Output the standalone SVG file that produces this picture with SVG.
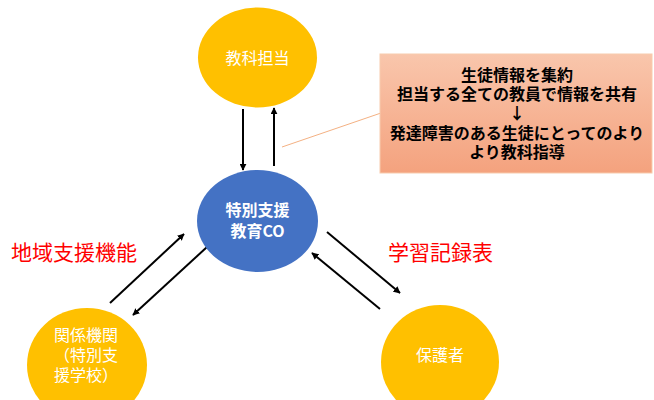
<svg xmlns="http://www.w3.org/2000/svg" width="654" height="400" viewBox="0 0 654 400">
<defs>
<linearGradient id="boxg" x1="0" y1="0" x2="0" y2="1">
<stop offset="0" stop-color="#F9C6AC"/>
<stop offset="1" stop-color="#F4A27E"/>
</linearGradient>
<marker id="ah" viewBox="0 0 10 10" refX="9" refY="5" markerWidth="7" markerHeight="7" markerUnits="userSpaceOnUse" orient="auto">
<path d="M0,0 L10,5 L0,10 z" fill="#000"/>
</marker>
<style>
.yel{fill:#FFC000;}
.blu{fill:#4472C4;}
.wt{fill:#fff;font-family:"Noto Sans CJK JP","Noto Sans",sans-serif;font-size:16px;}
.wtb{fill:#fff;font-family:"Noto Sans CJK JP","Noto Sans",sans-serif;font-size:16px;font-weight:bold;}
.bx{fill:#000;font-family:"Noto Sans CJK JP","Noto Sans",sans-serif;font-size:16px;font-weight:bold;text-anchor:middle;}
.red{fill:#FF0000;font-family:"Noto Sans CJK JP","Noto Sans",sans-serif;font-size:21px;}
.ar{stroke:#000;stroke-width:2;fill:none;marker-end:url(#ah);}
</style>
</defs>
<rect width="654" height="400" fill="#fff"/>
<g id="connectors">
<line class="ar" x1="243" y1="109" x2="243" y2="170"/>
<line class="ar" x1="274" y1="166" x2="274" y2="108"/>
<line class="ar" x1="110" y1="303" x2="184" y2="234"/>
<line class="ar" x1="207" y1="247" x2="133" y2="315"/>
<line class="ar" x1="327" y1="232" x2="400" y2="293"/>
<line class="ar" x1="380" y1="309" x2="312" y2="253"/>
<line x1="282" y1="147" x2="381" y2="113" stroke="#F4B183" stroke-width="1"/>
</g>
<g id="node-kyoka">
<ellipse class="yel" cx="257.5" cy="57.5" rx="59.5" ry="50"/>
<text class="wt" x="257.5" y="64" text-anchor="middle">教科担当</text>
</g>
<g id="node-co">
<ellipse class="blu" cx="257.5" cy="221" rx="60.5" ry="51"/>
<text class="wtb" x="257.5" y="216" text-anchor="middle">特別支援</text>
<text class="wtb" x="257.5" y="237" text-anchor="middle">教育CO</text>
</g>
<g id="node-box">
<rect x="380" y="54" width="272" height="119" fill="url(#boxg)" stroke="#F8CBAD" stroke-width="1"/>
<text class="bx" x="517" y="81">生徒情報を集約</text>
<text class="bx" x="517" y="100">担当する全ての教員で情報を共有</text>
<text class="bx" x="517" y="119" font-weight="normal">↓</text>
<text class="bx" x="517" y="139">発達障害のある生徒にとってのより</text>
<text class="bx" x="517" y="158">より教科指導</text>
</g>
<g id="node-kankei">
<ellipse class="yel" cx="87" cy="365" rx="60" ry="57"/>
<text class="wt" x="54" y="341">関係機関</text>
<text class="wt" x="54" y="361">（特別支</text>
<text class="wt" x="54" y="381">援学校）</text>
</g>
<g id="node-hogo">
<ellipse class="yel" cx="440" cy="362" rx="59" ry="57"/>
<text class="wt" x="440" y="361" text-anchor="middle">保護者</text>
</g>
<g id="labels">
<text class="red" x="11" y="260">地域支援機能</text>
<text class="red" x="388" y="260">学習記録表</text>
</g>
</svg>
